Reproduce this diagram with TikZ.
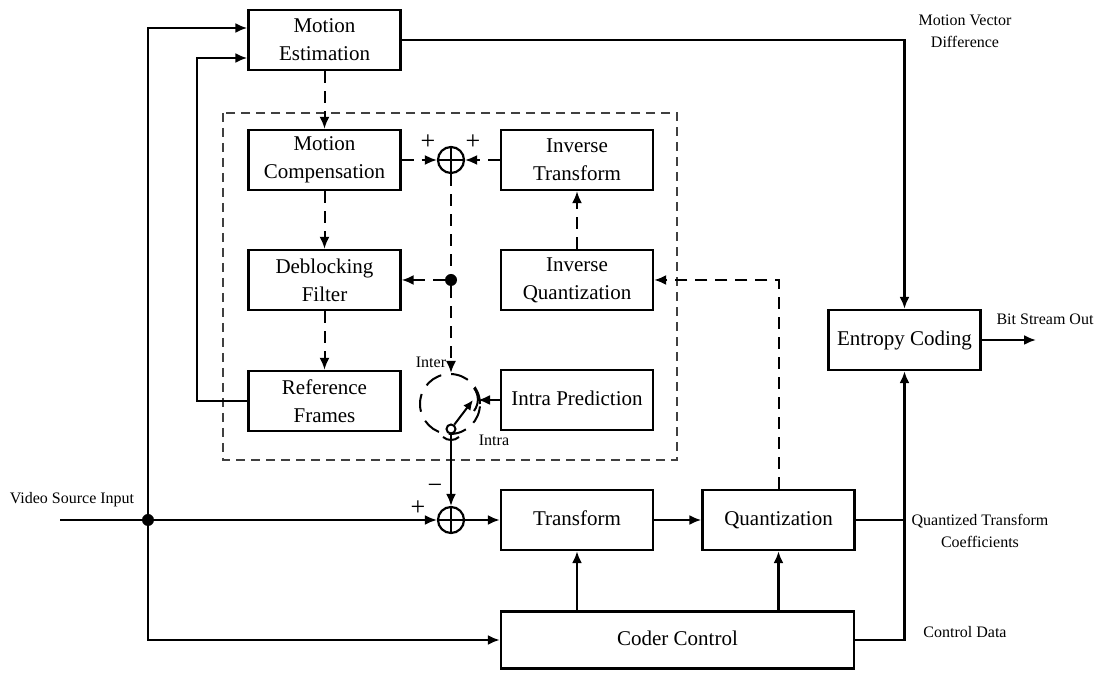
\documentclass[tikz,border=0pt]{standalone}
\usepackage{fontspec}
\setmainfont{Liberation Serif}
\usetikzlibrary{arrows.meta,calc}
\begin{document}
\begin{tikzpicture}[x=0.5pt,y=-0.5pt,
  box/.style={draw,line width=1.2pt,minimum width=76pt,minimum height=30pt,
    align=center,inner sep=1pt,font=\fontsize{10.5}{14}\selectfont},
  one/.style={text height=1.45ex,text depth=0.3ex},
  lbl/.style={align=center,inner sep=0pt,font=\fontsize{8}{11}\selectfont},
  sign/.style={inner sep=0pt,font=\fontsize{13}{13}\selectfont},
  tip/.style={-{Latex[length=6pt,width=5pt]}},
  wire/.style={line width=1.1pt},
  arr/.style={wire,tip},
  dwire/.style={line width=1pt,dash pattern=on 6pt off 4pt},
  darr/.style={dwire,tip},
  adder/.style={circle,draw,line width=1.1pt,minimum size=13pt,inner sep=0pt,
    path picture={\draw[line width=0.9pt]
      (path picture bounding box.north) -- (path picture bounding box.south)
      (path picture bounding box.west) -- (path picture bounding box.east);}},
  dot/.style={circle,fill,minimum size=6pt,inner sep=0pt},
]
\useasboundingbox (0,0) rectangle (1100,673);

% reconstruction loop frame
\draw[line width=0.7pt,draw=black!75,dash pattern=on 4.5pt off 3pt] (223,113) rectangle (677,460);

% processing blocks
\node[box] (me) at (324.5,40)  {Motion\\Estimation};
\node[box] (mc) at (324.5,160) {Motion\\Compensation};
\node[box] (df) at (324.5,280) {Deblocking\\Filter};
\node[box] (rf) at (324.5,401) {Reference\\Frames};
\node[box] (it) at (577,160)   {Inverse\\Transform};
\node[box] (iq) at (577,280)   {Inverse\\Quantization};
\node[box,one] (ip) at (577,400)   {Intra Prediction};
\node[box,one] (tr) at (577,520)   {Transform};
\node[box,one] (qu) at (778.5,520) {Quantization};
\node[box,one] (ec) at (904.5,340) {Entropy Coding};
\node[box,one,minimum width=176.5pt,minimum height=28.5pt] (cc) at (677.5,640) {Coder Control};

% summing points and junctions
\node[adder] (add) at (451,160) {};
\node[adder] (sub) at (451,520) {};
\node[dot] (j1) at (451,280) {};
\node[dot] (j0) at (148,520) {};

% intra/inter switch
\node[circle,draw,line width=1pt,dash pattern=on 9pt off 5pt,minimum size=30pt,inner sep=0pt] (sw) at (450,404) {};
\node[circle,draw,line width=1pt,minimum size=4.5pt,inner sep=0pt] (piv) at (451,429) {};
\coordinate (armtip) at (473,400);
\coordinate (intrac) at (478,400);
\draw[line width=1pt,-{Latex[length=5pt,width=4.5pt]}] (piv) -- (armtip);
\draw[line width=1pt] (474,388) to[bend left=35] (474,411);
\draw[line width=1pt] (443,437) to[bend right=40] (459,437);

% input and forward path
\coordinate (in) at (60,520);
\draw[wire] (in) -- (j0);
\draw[arr] (j0) -- (sub);
\draw[arr] (sub) -- (tr);
\draw[arr] (tr) -- (qu);
\draw[arr] (j0) |- ([yshift=6pt]me.west);
\draw[arr] (j0) |- (cc.west);
\draw[arr] (rf.west) -- ++(-50,0) |- ([yshift=-9pt]me.west);
\draw[arr] (piv) -- (sub);
\draw[arr] (ip.west) -- (intrac);

% control paths
\draw[arr] (cc.north -| tr.south) -- (tr.south);
\draw[arr] (cc.north -| qu.south) -- (qu.south);

% entropy coding inputs and output
\draw[arr] (me.east) -| (ec.north);
\draw[arr] (cc.east) -| (ec.south);
\draw[wire] (qu.east) -- (qu.east -| ec.south);
\coordinate (out) at (1036,340);
\draw[arr] (ec.east) -- (out);

% reconstruction loop
\draw[darr] (me.south) -- (mc.north);
\draw[darr] (mc.south) -- (df.north);
\draw[darr] (df.south) -- (rf.north);
\draw[darr] (mc.east) -- (add.west);
\draw[darr] (it.west) -- (add.east);
\draw[darr] (iq.north) -- (it.south);
\draw[darr] (qu.north) |- (iq.east);
\draw[dwire] (add.south) -- (j1);
\draw[darr] (j1) -- (df.east);
\draw[darr] (j1) -- (sw.north -| j1);

% signs
\node[sign] at (428,142) {+};
\node[sign] at (473,142) {+};
\node[sign] at (435,489) {\textminus};
\node[sign] at (418,508) {+};
\node[lbl] at (431,362) {Inter};
\node[lbl] at (494,440) {Intra};

% signal labels
\node[lbl] at (72,500) {Video Source Input};
\node[lbl] at (965,31) {Motion Vector\\Difference};
\node[lbl] at (1045,319) {Bit Stream Out};
\node[lbl] at (980,531) {Quantized Transform\\Coefficients};
\node[lbl] at (965,632) {Control Data};
\end{tikzpicture}
\end{document}
